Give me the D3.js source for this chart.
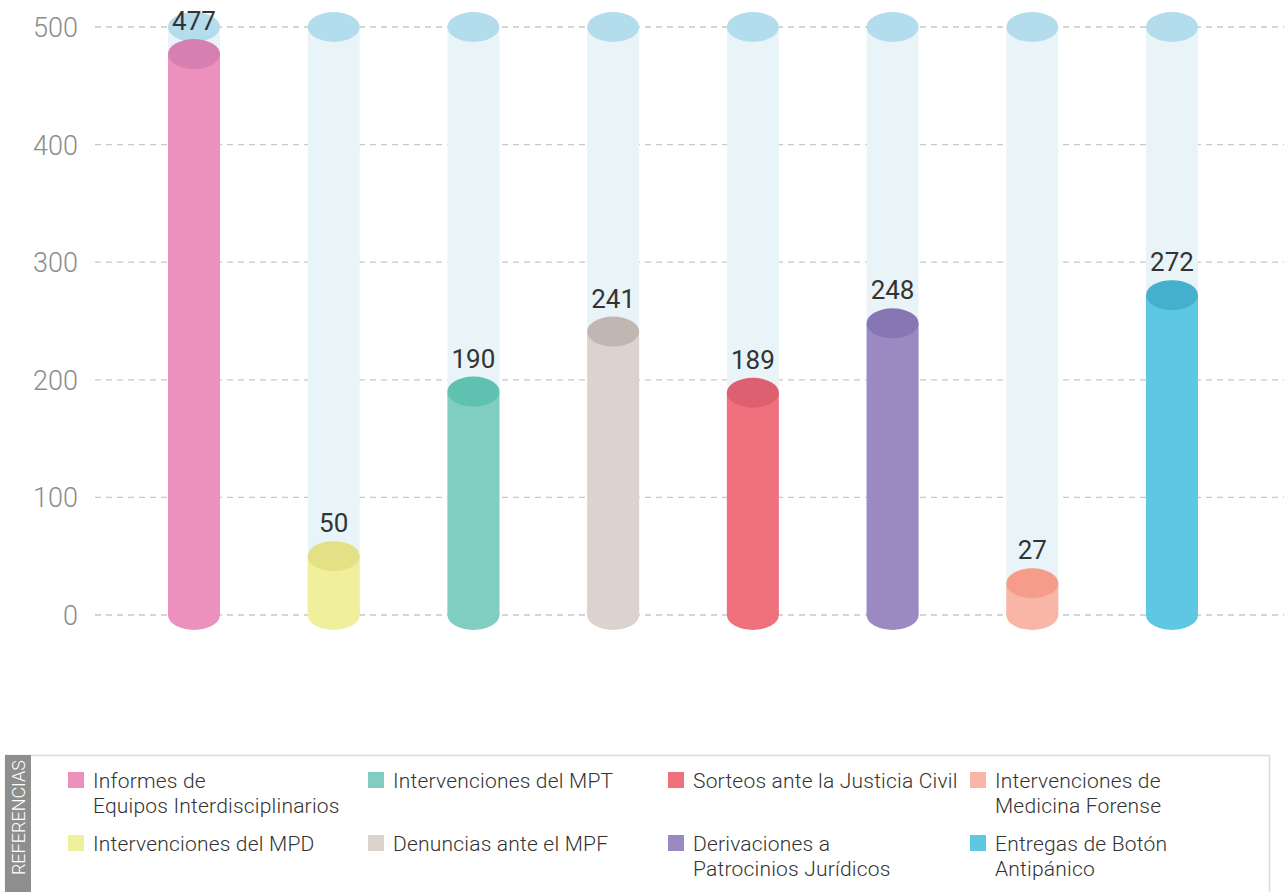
<!DOCTYPE html>
<html>
<head>
<meta charset="utf-8">
<script src="https://cdn.jsdelivr.net/npm/d3@7"></script>
<style>
  body { margin: 0; background: #fff; }
  svg { display: block; font-family: Roboto, "Noto Sans", sans-serif; }
</style>
</head>
<body>
<div id="chart"></div>
<script>
  var width = 1284,
      height = 892;

  // data
  var categories = ["Informes de Equipos Interdisciplinarios", "Intervenciones del MPD",
                    "Intervenciones del MPT", "Denuncias ante el MPF",
                    "Sorteos ante la Justicia Civil", "Derivaciones a Patrocinios Jurídicos",
                    "Intervenciones de Medicina Forense", "Entregas de Botón Antipánico"];
  var values = [477, 50, 190, 241, 189, 248, 27, 272];
  var yTicks = [0, 100, 200, 300, 400, 500];
  // legend lines, in the order they sit in the legend grid (column by column)
  var legendLines = [
    ["Informes de", "Equipos Interdisciplinarios"],
    ["Intervenciones del MPD"],
    ["Intervenciones del MPT"],
    ["Denuncias ante el MPF"],
    ["Sorteos ante la Justicia Civil"],
    ["Derivaciones a", "Patrocinios Jurídicos"],
    ["Intervenciones de", "Medicina Forense"],
    ["Entregas de Botón", "Antipánico"]
  ];

  var bodyColor = ["#ec91bd", "#f0f09c", "#80cdc1", "#dcd3cf", "#f0707d", "#9b8ac1", "#f9b5a5", "#5ec8e3"];
  var topColor  = ["#d67fb1", "#e3e085", "#5fc1b0", "#c2b6b3", "#dc6070", "#8776b4", "#f59c8b", "#45b0cd"];

  var svg = d3.select("#chart").append("svg")
      .attr("width", width)
      .attr("height", height);

  var y = d3.scaleLinear()
      .domain([0, 500])
      .range([615, 27]);

  var x = d3.scalePoint()
      .domain(d3.range(values.length))
      .range([194, 1172]);

  var barW = 52, ry = 15;

  // grid lines
  svg.append("g").selectAll("line")
    .data(yTicks)
    .enter().append("line")
      .attr("x1", 95).attr("x2", width)
      .attr("y1", d => y(d)).attr("y2", d => y(d))
      .style("stroke", "#c8c8c8")
      .style("stroke-width", 1.3)
      .style("stroke-dasharray", "6,5");

  // y axis labels
  svg.append("g").selectAll("text")
    .data(yTicks)
    .enter().append("text")
      .attr("x", 78)
      .attr("y", d => y(d) + 10)
      .attr("text-anchor", "end")
      .style("font-size", "27px")
      .style("font-weight", 300)
      .style("fill", "#8c8c8c")
      .text(d => d);

  var bars = svg.append("g").selectAll("g")
    .data(values)
    .enter().append("g")
      .attr("transform", (d, i) => "translate(" + x(i) + ",0)");

  // background track up to 500
  bars.append("rect")
      .attr("x", -barW / 2).attr("width", barW)
      .attr("y", y(500)).attr("height", y(0) - y(500))
      .style("fill", "#e8f4f7");
  bars.append("ellipse")
      .attr("cx", 0).attr("cy", y(500))
      .attr("rx", barW / 2).attr("ry", ry)
      .style("fill", "#b3dcec");

  // cylinder
  bars.append("ellipse")
      .attr("cx", 0).attr("cy", y(0))
      .attr("rx", barW / 2).attr("ry", ry)
      .style("fill", (d, i) => bodyColor[i]);
  bars.append("rect")
      .attr("x", -barW / 2).attr("width", barW)
      .attr("y", d => y(d)).attr("height", d => y(0) - y(d))
      .style("fill", (d, i) => bodyColor[i]);
  bars.append("ellipse")
      .attr("cx", 0).attr("cy", d => y(d))
      .attr("rx", barW / 2).attr("ry", ry)
      .style("fill", (d, i) => topColor[i]);

  bars.append("text")
      .attr("y", d => y(d) - ry - 9)
      .attr("text-anchor", "middle")
      .style("font-size", "26px")
      .style("fill", "#333")
      .text(d => d);

  // legend box
  var leg = svg.append("g");
  leg.append("rect")
      .attr("x", 5.5).attr("y", 755.5)
      .attr("width", 1264).attr("height", 150)
      .style("fill", "#fff")
      .style("stroke", "#dadada")
      .style("stroke-width", 1.5);
  leg.append("rect")
      .attr("x", 5).attr("y", 755)
      .attr("width", 26).attr("height", 140)
      .style("fill", "#8e8e8e");
  leg.append("text")
      .attr("transform", "translate(25,760) rotate(-90)")
      .attr("text-anchor", "end")
      .style("font-size", "18px")
      .style("font-weight", 300)
      .style("fill", "#fff")
      .text("REFERENCIAS");

  var colX = [68, 368, 668, 970],
      rowY = [772, 835];

  var items = leg.selectAll("g.item")
    .data(legendLines)
    .enter().append("g")
      .attr("class", "item")
      .attr("transform", function(d, k) {
        var col = Math.floor(k / 2), row = k % 2;
        return "translate(" + colX[col] + "," + rowY[row] + ")";
      });

  items.append("rect")
      .attr("width", 16).attr("height", 16)
      .style("fill", (d, k) => bodyColor[k]);

  items.append("text")
      .attr("x", 25)
      .style("font-size", "21px")
      .style("font-weight", 300)
      .style("letter-spacing", "0.2px")
      .style("fill", "#333")
      .selectAll("tspan")
      .data(d => d)
      .enter().append("tspan")
        .attr("x", 25)
        .attr("y", (t, j) => 16 + j * 25)
        .text(t => t);
</script>
</body>
</html>
